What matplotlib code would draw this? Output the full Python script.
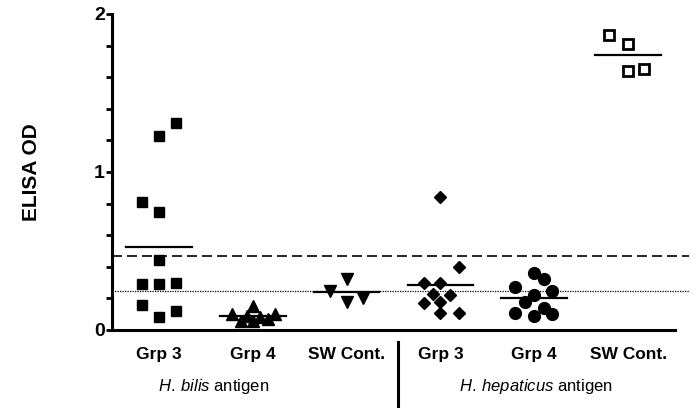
import matplotlib
matplotlib.use("Agg")
import matplotlib.pyplot as plt
from matplotlib.lines import Line2D

plt.rcParams['font.family'] = ['Liberation Sans', 'DejaVu Sans']
plt.rcParams['mathtext.fontset'] = 'custom'
plt.rcParams['mathtext.rm'] = 'Liberation Sans'
plt.rcParams['mathtext.it'] = 'Liberation Sans:italic'

## categories and readings
group_labels = ['Grp 3', 'Grp 4', 'SW Cont.', 'Grp 3', 'Grp 4', 'SW Cont.']
antigen_labels = [r'$\mathit{H.}\:\mathit{bilis}$ antigen', r'$\mathit{H.}\:\mathit{hepaticus}$ antigen']

bilis_g3 = [1.31, 1.23, 0.81, 0.75, 0.44, 0.29, 0.29, 0.30, 0.16, 0.08, 0.12]
bilis_g4 = [0.10, 0.06, 0.15, 0.06, 0.08, 0.07, 0.10, 0.09]
bilis_sw = [0.32, 0.25, 0.18, 0.20]
hep_g3 = [0.84, 0.40, 0.30, 0.30, 0.23, 0.22, 0.17, 0.18, 0.11, 0.11]
hep_g4 = [0.36, 0.32, 0.27, 0.25, 0.22, 0.18, 0.11, 0.09, 0.10, 0.14]
hep_sw = [1.87, 1.81, 1.64, 1.65]

cutoff_dashed = 0.47
cutoff_dotted = 0.25

# horizontal scatter of the points inside each column
bilis_g3_dx = [0.18, 0, -0.18, 0, 0, -0.18, 0, 0.18, -0.18, 0, 0.18]
bilis_g4_dx = [-0.22, -0.12, 0, 0, 0.08, 0.16, 0.24, -0.06]
bilis_sw_dx = [0, -0.18, 0, 0.17]
hep_g3_dx = [0, 0.2, -0.17, 0, -0.08, 0.1, -0.17, 0, 0, 0.2]
hep_g4_dx = [0, 0.1, -0.2, 0.19, 0, -0.1, -0.2, 0, 0.19, 0.1]
hep_sw_dx = [-0.2, 0, 0, 0.17]


fig = plt.figure(figsize=(6.99, 4.08), dpi=100)
ax = fig.add_axes([112/699, 1 - 330/408, 563/699, 316/408])

series = [
    (bilis_g3, bilis_g3_dx, dict(marker='s', ms=7.5, mfc='black', mec='black')),
    (bilis_g4, bilis_g4_dx, dict(marker='^', ms=9, mfc='black', mec='black')),
    (bilis_sw, bilis_sw_dx, dict(marker='v', ms=8.5, mfc='black', mec='black')),
    (hep_g3, hep_g3_dx, dict(marker='D', ms=6.5, mfc='black', mec='black')),
    (hep_g4, hep_g4_dx, dict(marker='o', ms=8.5, mfc='black', mec='black')),
    (hep_sw, hep_sw_dx, dict(marker='s', ms=7.5, mfc='white', mec='black', mew=2)),
]

for i, (vals, dx, style) in enumerate(series):
    pos = i + 1
    xs = [pos + d for d in dx]
    ax.plot(xs, vals, linestyle='none', zorder=3, **style)
    ## mean line
    m = sum(vals) / len(vals)
    ax.plot([pos - 0.35, pos + 0.35], [m, m], color='black', lw=1.6, zorder=4)

## cutoff lines run a bit past the axis end
ax.plot([0.5, 6.65], [cutoff_dashed, cutoff_dashed], color='black', lw=1.2,
        dashes=(6, 3), clip_on=False)
ax.plot([0.5, 6.65], [cutoff_dotted, cutoff_dotted], color='black', lw=0.9,
        dashes=(1, 1), clip_on=False)

ax.set_xlim(0.5, 6.5)
ax.set_ylim(0, 2)

ax.spines['top'].set_visible(False)
ax.spines['right'].set_visible(False)
ax.spines['left'].set_linewidth(2.2)
ax.spines['bottom'].set_linewidth(2.2)

ax.set_yticks([0, 1, 2])
ax.set_yticklabels(['0', '1', '2'], fontsize=14, fontweight='bold')
ax.set_yticks([0.2, 0.4, 0.6, 0.8, 1.2, 1.4, 1.6, 1.8], minor=True)
ax.tick_params(axis='y', which='both', direction='out', length=4, width=2, pad=1)

ax.set_xticks(range(1, 7))
ax.set_xticklabels(group_labels, fontsize=12.5, fontweight='bold')
ax.tick_params(axis='x', length=0, pad=12)

ax.set_ylabel('ELISA OD', fontsize=15, fontweight='bold', labelpad=38)

## antigen labels and the separator below the axis
ax.text(1.58, -0.178, antigen_labels[0], transform=ax.get_xaxis_transform(),
        ha='center', va='center', fontsize=12)
ax.text(5.02, -0.178, antigen_labels[1], transform=ax.get_xaxis_transform(),
        ha='center', va='center', fontsize=12)
sep = Line2D([398/699, 398/699], [0, 1 - 342/408], transform=fig.transFigure,
             color='black', lw=2.2)
fig.add_artist(sep)

fig.savefig('out.png', dpi=100)
plt.close(fig)
